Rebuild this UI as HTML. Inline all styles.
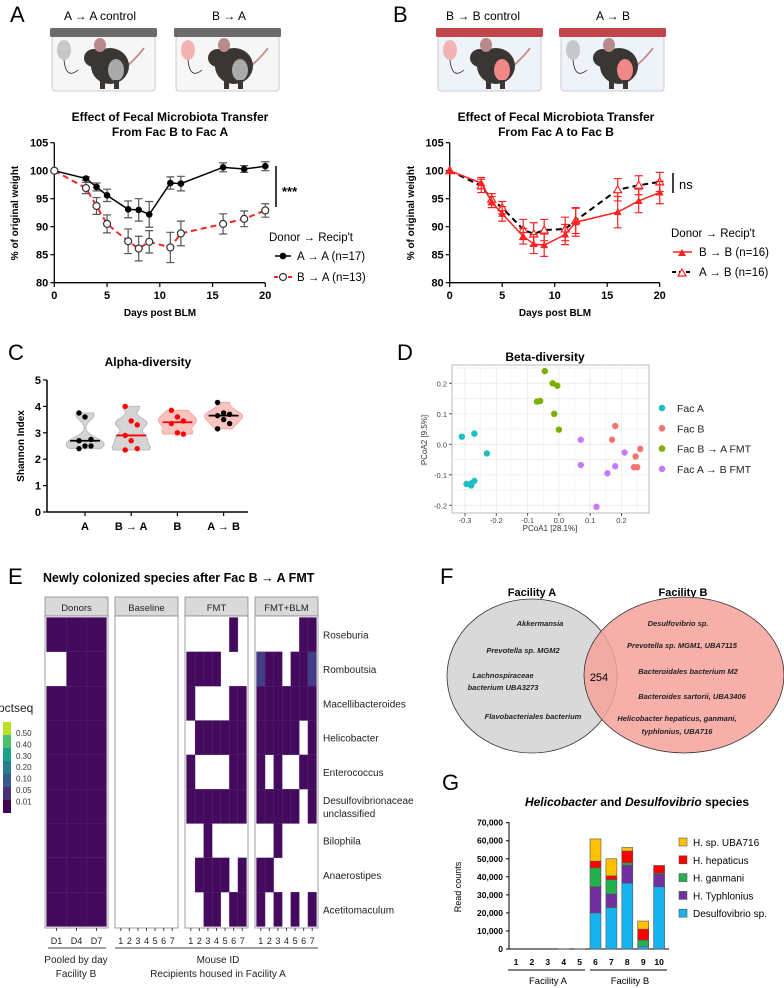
<!DOCTYPE html>
<html><head><meta charset="utf-8"><style>
html,body{margin:0;padding:0;background:#fff}
svg{display:block;font-family:"Liberation Sans",Arial,sans-serif}
.b{font-weight:bold}
</style></head><body>
<svg id="fig" width="784" height="988" viewBox="0 0 784 988">
<!-- Panel letters -->
<text x="10" y="22" font-size="22">A</text>
<text x="393" y="22" font-size="22">B</text>
<text x="8" y="360" font-size="22">C</text>
<text x="397" y="360" font-size="22">D</text>
<text x="8" y="584" font-size="22">E</text>
<text x="440" y="584" font-size="22">F</text>
<text x="442" y="790" font-size="22">G</text>

<!-- Cage labels -->
<text x="100" y="20" font-size="12" text-anchor="middle">A → A control</text>
<text x="229" y="20" font-size="12" text-anchor="middle">B → A</text>
<text x="483" y="20" font-size="12" text-anchor="middle">B → B control</text>
<text x="613" y="20" font-size="12" text-anchor="middle">A → B</text>
<g id="cages"></g>

<!-- Chart titles -->
<text x="170" y="121" font-size="12" class="b" text-anchor="middle">Effect of Fecal Microbiota Transfer</text>
<text x="170" y="136" font-size="12" class="b" text-anchor="middle">From Fac B to Fac A</text>
<text x="556" y="121" font-size="12" class="b" text-anchor="middle">Effect of Fecal Microbiota Transfer</text>
<text x="556" y="136" font-size="12" class="b" text-anchor="middle">From Fac A to Fac B</text>
<text transform="translate(18,213) rotate(-90)" font-size="10" class="b" text-anchor="middle">% of original weight</text>
<text transform="translate(414,213) rotate(-90)" font-size="10" class="b" text-anchor="middle">% of original weight</text>
<text x="160" y="316" font-size="10" class="b" text-anchor="middle">Days post BLM</text>
<text x="555" y="316" font-size="10" class="b" text-anchor="middle">Days post BLM</text>
<line x1="276" y1="166" x2="276" y2="207" stroke="#000" stroke-width="1.5"/>
<text x="282" y="196" font-size="13" class="b">***</text>
<line x1="673" y1="173" x2="673" y2="193" stroke="#000" stroke-width="1.5"/>
<text x="679" y="189" font-size="13">ns</text>
<text x="269" y="241" font-size="11.5">Donor → Recip't</text>
<text x="671" y="237" font-size="11.5">Donor → Recip't</text>
<g id="chartA"></g>
<g id="chartB"></g>

<!-- Panel C -->
<text x="148" y="366" font-size="12" class="b" text-anchor="middle">Alpha-diversity</text>
<text transform="translate(24,446) rotate(-90)" font-size="10" class="b" text-anchor="middle">Shannon Index</text>
<g id="chartC"></g>

<!-- Panel D -->
<text x="545" y="361" font-size="12" class="b" text-anchor="middle">Beta-diversity</text>
<text transform="translate(427,440) rotate(-90)" font-size="8" fill="#333" text-anchor="middle">PCoA2 [9.5%]</text>
<text x="550" y="531" font-size="8" fill="#333" text-anchor="middle">PCoA1 [28.1%]</text>
<g id="chartD"></g>

<!-- Panel E -->
<text x="43" y="582" font-size="12.5" class="b">Newly colonized species after Fac B → A FMT</text>
<g id="chartE"></g>

<!-- Panel F -->
<g>
<text x="532" y="596" font-size="11" class="b" text-anchor="middle">Facility A</text>
<text x="683" y="596" font-size="11" class="b" text-anchor="middle">Facility B</text>
<ellipse cx="532" cy="676" rx="85" ry="77" fill="#d9d9d9" stroke="#333" stroke-width="0.8"/>
<ellipse cx="684" cy="675" rx="100" ry="78" fill="#f4a29a" fill-opacity="0.85" stroke="#333" stroke-width="0.8"/>
<text x="599" y="681" font-size="11" text-anchor="middle">254</text>
<g font-size="7.5" font-style="italic" font-weight="bold" text-anchor="middle" fill="#222">
<text x="540" y="626">Akkermansia</text>
<text x="523" y="653">Prevotella sp. MGM2</text>
<text x="503" y="678">Lachnospiraceae</text>
<text x="503" y="690">bacterium UBA3273</text>
<text x="533" y="719">Flavobacteriales bacterium</text>
<text x="678" y="626">Desulfovibrio sp.</text>
<text x="682" y="648">Prevotella sp. MGM1, UBA7115</text>
<text x="688" y="674">Bacteroidales bacterium M2</text>
<text x="692" y="699">Bacteroides sartorii, UBA3406</text>
<text x="677" y="721">Helicobacter hepaticus, ganmani,</text>
<text x="677" y="734">typhlonius, UBA716</text>
</g></g>

<!-- Panel G -->
<text x="637" y="806" font-size="12" class="b" text-anchor="middle"><tspan font-style="italic">Helicobacter</tspan> and <tspan font-style="italic">Desulfovibrio</tspan> species</text>
<text transform="translate(461,887) rotate(-90)" font-size="9" text-anchor="middle">Read counts</text>
<g id="chartG"></g>
</svg>
<script>
const NS='http://www.w3.org/2000/svg';
function mk(tag,attrs,parent){const e=document.createElementNS(NS,tag);for(const k in attrs)e.setAttribute(k,attrs[k]);parent.appendChild(e);return e;}
function txt(s,attrs,parent){const e=mk('text',attrs,parent);e.textContent=s;return e;}

// ---------- Panel A/B data ----------
const days=[0,3,4,5,7,8,9,11,12,16,18,20];
const aaMean=[100,98.6,97.1,95.6,93.1,93.0,92.2,97.8,97.7,100.6,100.3,100.8];
const aaErr=[0,0.3,0.7,1.1,1.5,2.0,2.3,1.1,1.3,0.8,0.6,0.8];
const baMean=[100,96.9,93.7,90.5,87.4,86.1,87.3,86.3,88.8,90.5,91.4,92.9];
const baErr=[0,1.0,1.5,1.6,2.2,2.2,2.0,2.7,2.2,1.8,1.4,1.2];
const bbMean=[100,97.8,94.4,92.3,88.3,86.9,86.7,88.6,90.8,92.6,94.6,96.1];
const bbErr=[0,1.0,1.0,1.3,1.4,1.7,2.0,1.8,2.5,2.8,2.1,2.0];
const abMean=[100,97.3,94.9,93.4,89.5,88.7,89.4,89.6,91.1,96.6,97.4,98.0];
const abErr=[0,1.2,1.0,1.1,1.8,2.0,1.9,2.1,2.3,2.0,1.7,1.7];
const weightTicks=[80,85,90,95,100,105];
const dayTicks=[0,5,10,15,20];

function weightAxes(g,x0,pxDay,name){
  const xs=d=>x0+d*pxDay, ys=v=>142.7+(105-v)*5.6;
  const ya=mk('line',{x1:x0,y1:142.7,x2:x0,y2:282.7,stroke:'#000','stroke-width':1.3},g);
  
  
  const xa=mk('line',{x1:x0,y1:282.7,x2:xs(20),y2:282.7,stroke:'#000','stroke-width':1.3},g);
  
  
  weightTicks.forEach(v=>{
    mk('line',{x1:x0-4,y1:ys(v),x2:x0,y2:ys(v),stroke:'#000','stroke-width':1.2},g);
    const t=txt(v,{x:x0-6,y:ys(v)+4,'font-size':11,'font-weight':'bold','text-anchor':'end'},g);
    
    
  });
  dayTicks.forEach(d=>{
    mk('line',{x1:xs(d),y1:282.7,x2:xs(d),y2:287,stroke:'#000','stroke-width':1.2},g);
    const t=txt(d,{x:xs(d),y:299,'font-size':11,'font-weight':'bold','text-anchor':'middle'},g);
    
    
  });
  return [xs,ys];
}
function series(g,xs,ys,mean,err,lineColor,dash,errColor,marker,name){
  const pts=days.map((d,i)=>xs(d)+','+ys(mean[i])).join(' ');
  const l=mk('polyline',{points:pts,fill:'none',stroke:lineColor,'stroke-width':dash?2:1.5,'stroke-dasharray':dash||'none'},g);
  
  
  days.forEach((d,i)=>{
    if(err[i]>0){
      const x=xs(d),y1=ys(mean[i]-err[i]),y2=ys(mean[i]+err[i]);
      const eb=mk('path',{d:`M${x},${y1}V${y2}M${x-4},${y1}H${x+4}M${x-4},${y2}H${x+4}`,stroke:errColor,'stroke-width':1.2,fill:'none'},g);
      
      
    }
  });
  days.forEach((d,i)=>{
    const m=marker(g,xs(d),ys(mean[i]));
    
    
  });
}
const dot=(g,x,y)=>mk('circle',{cx:x,cy:y,r:3.3,fill:'#000'},g);
const ring=(g,x,y)=>mk('circle',{cx:x,cy:y,r:3.5,fill:'#fff',stroke:'#333','stroke-width':1.2},g);
const triF=(g,x,y)=>mk('path',{d:`M${x},${y-4}L${x+4},${y+3}L${x-4},${y+3}Z`,fill:'#f22'},g);
const triO=(g,x,y)=>mk('path',{d:`M${x},${y-4}L${x+4},${y+3}L${x-4},${y+3}Z`,fill:'#fff',stroke:'#f22','stroke-width':1.2},g);

(function(){
  const g=document.getElementById('chartA');
  const [xs,ys]=weightAxes(g,54.3,10.55,'chart-a');
  series(g,xs,ys,aaMean,aaErr,'#000',null,'#555',dot,'a-to-a');
  series(g,xs,ys,baMean,baErr,'#f22','6,4','#555',ring,'b-to-a');
  // legend
  let l=mk('line',{x1:275,y1:256,x2:291,y2:256,stroke:'#000','stroke-width':1.5},g);
  
  
  dot(g,283,256);
  let t=txt('A → A (n=17)',{x:297,y:260,'font-size':11.5},g);
  
  
  l=mk('line',{x1:274,y1:277,x2:292,y2:277,stroke:'#f22','stroke-width':2,'stroke-dasharray':'4,3'},g);
  
  
  ring(g,283,277);
  t=txt('B → A (n=13)',{x:297,y:281,'font-size':11.5},g);
  
  
})();
(function(){
  const g=document.getElementById('chartB');
  const [xs,ys]=weightAxes(g,449.7,10.5,'chart-b');
  series(g,xs,ys,abMean,abErr,'#000','6,4','#f22',triO,'a-to-b');
  series(g,xs,ys,bbMean,bbErr,'#f22',null,'#f22',triF,'b-to-b');
  let l=mk('line',{x1:673,y1:252,x2:692,y2:252,stroke:'#f22','stroke-width':1.5},g);
  
  
  triF(g,682,253);
  let t=txt('B → B (n=16)',{x:699,y:256,'font-size':11.5},g);
  
  
  l=mk('line',{x1:672,y1:272,x2:692,y2:272,stroke:'#000','stroke-width':2,'stroke-dasharray':'4,3'},g);
  
  
  triO(g,682,273);
  t=txt('A → B (n=16)',{x:699,y:276,'font-size':11.5},g);
  
  
})();

// ---------- Panel C ----------
const alphaCats=['A','B → A','B','A → B'];
const alphaA=[3.75,3.6,2.75,2.7,2.5,2.5,2.4];
const alphaBA=[4.0,3.45,3.3,2.9,2.7,2.4,2.35];
const alphaB=[3.85,3.6,3.45,3.35,3.0,2.95];
const alphaAB=[4.15,3.75,3.7,3.65,3.5,3.35,3.15];
const alphaTicks=[0,1,2,3,4,5];
(function(){
  const g=document.getElementById('chartC');
  const y=v=>512-v*26.4, x=i=>85+i*46.2;
  const ya=mk('line',{x1:47,y1:380,x2:47,y2:512,stroke:'#000','stroke-width':1.5},g);
  
  
  const xa=mk('line',{x1:47,y1:512,x2:248,y2:512,stroke:'#000','stroke-width':1.5},g);
  
  
  alphaTicks.forEach(v=>{
    mk('line',{x1:43,y1:y(v),x2:47,y2:y(v),stroke:'#000','stroke-width':1.2},g);
    const t=txt(v,{x:41,y:y(v)+4,'font-size':11,'font-weight':'bold','text-anchor':'end'},g);
    
    
  });
  const groups=[alphaA,alphaBA,alphaB,alphaAB];
  const fills=['#d4d4d4','#d4d4d4','#f9c4bf','#f9c4bf'];
  const strokes=['#bbb','#bbb','#f4a9a2','#f4a9a2'];
  const ptCol=['#000','#f00','#f00','#000'];
  const medCol=['#000','#f00','#f00','#000'];
  groups.forEach((vals,i)=>{
    const cx=x(i);
    mk('line',{x1:cx,y1:512,x2:cx,y2:516,stroke:'#000','stroke-width':1.2},g);
    const lab=txt(alphaCats[i],{x:cx,y:530,'font-size':11,'font-weight':'bold','text-anchor':'middle'},g);
    
    
    const mn=Math.min(...vals),mx=Math.max(...vals),bw=0.18;
    const dens=[];
    for(let k=0;k<=30;k++){const v=mn+(mx-mn)*k/30;let s=0;vals.forEach(p=>{s+=Math.exp(-0.5*((v-p)/bw)**2)});dens.push([v,s]);}
    const dmax=Math.max(...dens.map(d=>d[1]));
    const L=dens.map(d=>`${cx-19*d[1]/dmax},${y(d[0])}`),R=dens.slice().reverse().map(d=>`${cx+19*d[1]/dmax},${y(d[0])}`);
    const v=mk('polygon',{points:L.concat(R).join(' '),fill:fills[i],stroke:strokes[i],'stroke-width':1},g);
    
    
    const s=vals.slice().sort((a,b)=>a-b);
    const med=s.length%2?s[(s.length-1)/2]:(s[s.length/2-1]+s[s.length/2])/2;
    const ml=mk('line',{x1:cx-15,y1:y(med),x2:cx+15,y2:y(med),stroke:medCol[i],'stroke-width':1.8},g);
    
    
    vals.forEach((p,j)=>{
      const c=mk('circle',{cx:cx+((j%3)-1)*6,cy:y(p),r:2.7,fill:ptCol[i]},g);
      
      
    });
  });
})();

// ---------- Panel D ----------
const pcoaGroups=['Fac A','Fac B','Fac B → A FMT','Fac A → B FMT'];
const facAx=[-0.31,-0.27,-0.23,-0.295,-0.28,-0.27,-0.28];
const facAy=[0.025,0.035,-0.03,-0.13,-0.128,-0.12,-0.135];
const facBx=[0.18,0.17,0.26,0.245,0.24,0.25];
const facBy=[0.06,0.015,-0.015,-0.04,-0.075,-0.075];
const fmtBAx=[-0.045,-0.02,-0.005,-0.07,-0.06,-0.015,0.0];
const fmtBAy=[0.24,0.2,0.192,0.14,0.142,0.1,0.048];
const fmtABx=[0.07,0.07,0.21,0.18,0.155,0.12];
const fmtABy=[0.015,-0.068,-0.027,-0.072,-0.095,-0.205];
const pcoaXTicks=[-0.3,-0.2,-0.1,0.0,0.1,0.2];
const pcoaYTicks=[-0.2,-0.1,0.0,0.1,0.2];
(function(){
  const g=document.getElementById('chartD');
  const x=v=>558.9+v*313, y=v=>444.3-v*305;
  const bg=mk('rect',{x:452,y:365,width:197,height:148,fill:'#fff',stroke:'#aaa','stroke-width':0.8},g);
  
  
  for(let k=-0.35;k<=0.26;k+=0.05){const xx=x(k);if(xx>452&&xx<649)mk('line',{x1:xx,y1:365,x2:xx,y2:513,stroke:'#ececec','stroke-width':Math.abs(Math.round(k*20))%2?0.5:0.9},g);}
  for(let k=-0.25;k<=0.26;k+=0.05){const yy=y(k);if(yy>365&&yy<513)mk('line',{x1:452,y1:yy,x2:649,y2:yy,stroke:'#ececec','stroke-width':0.8},g);}
  pcoaXTicks.forEach(v=>{
    mk('line',{x1:x(v),y1:513,x2:x(v),y2:516,stroke:'#555'},g);
    const t=txt(v.toFixed(1),{x:x(v),y:523,'font-size':7.5,fill:'#444','text-anchor':'middle'},g);
    
    
  });
  pcoaYTicks.forEach(v=>{
    mk('line',{x1:449,y1:y(v),x2:452,y2:y(v),stroke:'#555'},g);
    const t=txt(v.toFixed(1),{x:447,y:y(v)+3,'font-size':7.5,fill:'#444','text-anchor':'end'},g);
    
    
  });
  const sets=[[facAx,facAy,'#1fbfc4'],[facBx,facBy,'#f2766d'],[fmtBAx,fmtBAy,'#7cae00'],[fmtABx,fmtABy,'#c77cff']];
  sets.forEach((s,i)=>{
    s[0].forEach((v,j)=>{
      const c=mk('circle',{cx:x(v),cy:y(s[1][j]),r:3.2,fill:s[2]},g);
      
      
    });
    const ly=408+i*20.3;
    const lc=mk('circle',{cx:662,cy:ly,r:3.3,fill:s[2]},g);
    
    
    const lt=txt(pcoaGroups[i],{x:677,y:ly+4,'font-size':10.5,fill:'#222'},g);
    
    
  });
})();

// ---------- Panel E ----------
const taxa=['Roseburia','Romboutsia','Macellibacteroides','Helicobacter','Enterococcus','Desulfovibrionaceae\nunclassified','Bilophila','Anaerostipes','Acetitomaculum'];
const facets=['Donors','Baseline','FMT','FMT+BLM'];
const donorCells=['111','011','111','111','111','111','111','111','111'];
const baselineCells=['0000000','0000000','0000000','0000000','0000000','0000000','0000000','0000000','0000000'];
const fmtCells=['0000010','1111000','1000011','0111111','1000011','1111111','0010000','0111101','0011011'];
const fmtBlmCells=['0000011','2110112','1111111','1111101','1010011','1111101','0010000','1100000','1010101'];
const scaleLabels=['0.50','0.40','0.30','0.20','0.10','0.05','0.01'];
(function(){
  const g=document.getElementById('chartE');
  const fx=[45,115,185,255], fw=63, top=616, bot=928, rowH=(bot-top-3)/9;
  const cellSets=[donorCells,baselineCells,fmtCells,fmtBlmCells];
  const cols={'1':'#440a5e','2':'#433e88'};
  facets.forEach((f,i)=>{
    const s=mk('rect',{x:fx[i],y:597,width:fw,height:19,fill:'#d9d9d9',stroke:'#888','stroke-width':0.8},g);
    
    
    const st=txt(f,{x:fx[i]+fw/2,y:611,'font-size':9.5,fill:'#222','text-anchor':'middle'},g);
    
    
    const p=mk('rect',{x:fx[i],y:top,width:fw,height:bot-top,fill:'#fff',stroke:'#888','stroke-width':0.8},g);
    
    
    const grid=cellSets[i], n=grid[0].length, cw=(fw-3)/n;
    grid.forEach((row,r)=>{
      for(let c=0;c<n;c++){
        if(row[c]!=='0'){
          const cell=mk('rect',{x:fx[i]+1.5+c*cw,y:top+1.5+r*rowH,width:cw,height:rowH,fill:cols[row[c]],stroke:'#5a2a78','stroke-width':0.3},g);
          
          
        }
      }
    });
    for(let c=0;c<n;c++){
      const tx=fx[i]+1.5+(c+0.5)*cw;
      mk('line',{x1:tx,y1:bot,x2:tx,y2:bot+3,stroke:'#444'},g);
      const tl=txt(i===0?['D1','D4','D7'][c]:String(c+1),{x:tx,y:944,'font-size':9,fill:'#222','text-anchor':'middle'},g);
      
      
    }
  });
  taxa.forEach((t,r)=>{
    const lines=t.split('\n'), cy=top+1.5+(r+0.5)*rowH;
    lines.forEach((ln,k)=>{
      const e=txt(ln,{x:323,y:cy+4+(k-(lines.length-1)/2)*13,'font-size':10,fill:'#222'},g);
      
      
    });
  });
  mk('line',{x1:48,y1:948,x2:106,y2:948,stroke:'#444'},g);
  mk('line',{x1:115,y1:948,x2:318,y2:948,stroke:'#444'},g);
  const labs=[['Pooled by day',76,963],['Facility B',76,977],['Mouse ID',218,963],['Recipients housed in Facility A',218,977]];
  labs.forEach(l=>{
    const e=txt(l[0],{x:l[1],y:l[2],'font-size':10,fill:'#222','text-anchor':'middle'},g);
    
    
  });
  const lt=txt('pctseq',{x:-2,y:712,'font-size':12,fill:'#222'},g);
  
  
  const cbCols=['#bddf26','#4ac16d','#1fa187','#277f8e','#365c8d','#46337e','#440154'];
  cbCols.forEach((c,i)=>{
    const r=mk('rect',{x:3,y:722+i*13,width:8,height:13,fill:c},g);
    
    
  });
  scaleLabels.forEach((s,i)=>{
    const e=txt(s,{x:16,y:736+i*11.4,'font-size':8,fill:'#333'},g);
    
    
  });
})();

// ---------- Panel G ----------
const sampleIds=['1','2','3','4','5','6','7','8','9','10'];
const desulfovibrio=[0,0,0,150,150,20000,23000,36500,1500,34500];
const typhlonius=[0,0,0,0,0,14500,7500,10000,0,7000];
const ganmani=[0,0,0,0,0,10500,8000,1300,3500,500];
const hepaticus=[0,0,0,0,0,3700,2000,6500,6000,4300];
const uba716=[0,0,0,0,0,12300,9500,2000,4500,0];
const speciesNames=['H. sp. UBA716','H. hepaticus','H. ganmani','H. Typhlonius','Desulfovibrio sp.'];
const countTicks=[0,10000,20000,30000,40000,50000,60000,70000];
(function(){
  const g=document.getElementById('chartG');
  const y=v=>949-v*(126.3/70000), x=i=>516+i*15.9;
  const ya=mk('line',{x1:509,y1:822,x2:509,y2:949,stroke:'#000'},g);
  
  
  const xa=mk('line',{x1:509,y1:949,x2:669,y2:949,stroke:'#000'},g);
  
  
  countTicks.forEach(v=>{
    mk('line',{x1:506,y1:y(v),x2:509,y2:y(v),stroke:'#000'},g);
    const t=txt(v.toLocaleString('en-US'),{x:503,y:y(v)+3,'font-size':8.5,'font-weight':'bold','text-anchor':'end'},g);
    
    
  });
  const stacks=[desulfovibrio,typhlonius,ganmani,hepaticus,uba716];
  const cols=['#17b3ee','#7030a0','#22b14c','#ff0000','#ffc000'];
  sampleIds.forEach((id,i)=>{
    let base=0;
    stacks.forEach((s,k)=>{
      if(s[i]>0){
        const r=mk('rect',{x:x(i)-5.5,y:y(base+s[i]),width:11,height:y(base)-y(base+s[i]),fill:cols[k],stroke:'#555','stroke-width':0.6},g);
        
        
      }
      base+=s[i];
    });
    const t=txt(id,{x:x(i),y:965,'font-size':8.5,'font-weight':'bold','text-anchor':'middle'},g);
    
    
  });
  mk('line',{x1:508,y1:970,x2:585,y2:970,stroke:'#000'},g);
  mk('line',{x1:590,y1:970,x2:667,y2:970,stroke:'#000'},g);
  let t=txt('Facility A',{x:548,y:984,'font-size':9.5,'text-anchor':'middle'},g);
  
  
  t=txt('Facility B',{x:630,y:984,'font-size':9.5,'text-anchor':'middle'},g);
  
  
  const legCols=['#ffc000','#ff0000','#22b14c','#7030a0','#17b3ee'];
  speciesNames.forEach((n,i)=>{
    const ly=842+i*17.8;
    const r=mk('rect',{x:679,y:ly-4,width:8,height:8,fill:legCols[i],stroke:'#555','stroke-width':0.6},g);
    
    
    const e=txt(n,{x:693,y:ly+4,'font-size':10},g);
    
    
  });
})();

// ---------- cage illustrations ----------
(function(){
  const g=document.getElementById('cages');
  const cages=[[52,'#6b6b6b','#f6f6f6','#bbb','#aaa'],[176,'#6b6b6b','#f6f6f6','#f3a3a3','#aaa'],[438,'#c0464b','#eef3fa','#f3a3a3','#f08888'],[561,'#c0464b','#eef3fa','#bbb','#f08888']];
  cages.forEach((c,i)=>{
    const x=c[0];
    const body=mk('rect',{x:x,y:36,width:103,height:55,rx:3,fill:c[2],stroke:'#ccc'},g);
    
    
    const lid=mk('rect',{x:x-2,y:28,width:107,height:9,rx:1.5,fill:c[1]},g);
    
    
    const bag=mk('ellipse',{cx:x+12,cy:50,rx:7,ry:10,fill:c[3],opacity:0.8},g);
    
    
    mk('path',{d:`M${x+12},60 Q${x+14},80 ${x+26},70`,fill:'none',stroke:'#222','stroke-width':0.8},g);
    mk('path',{d:`M${x+66},74 Q${x+85},58 ${x+92},48`,fill:'none',stroke:'#c48a8a','stroke-width':1.8},g);
    const m=mk('ellipse',{cx:x+58,cy:66,rx:19,ry:18,fill:'#3a3634'},g);
    
    
    mk('ellipse',{cx:x+42,cy:58,rx:10,ry:9,fill:'#3a3634'},g);
    mk('ellipse',{cx:x+48,cy:45,rx:6,ry:7,fill:'#b88a8a'},g);
    mk('ellipse',{cx:x+64,cy:70,rx:8,ry:11,fill:c[4]},g);
    mk('rect',{x:x+48,y:80,width:5,height:9,fill:'#3a3634'},g);
    mk('rect',{x:x+62,y:80,width:5,height:9,fill:'#3a3634'},g);
  });
})();
</script>
</body></html>
